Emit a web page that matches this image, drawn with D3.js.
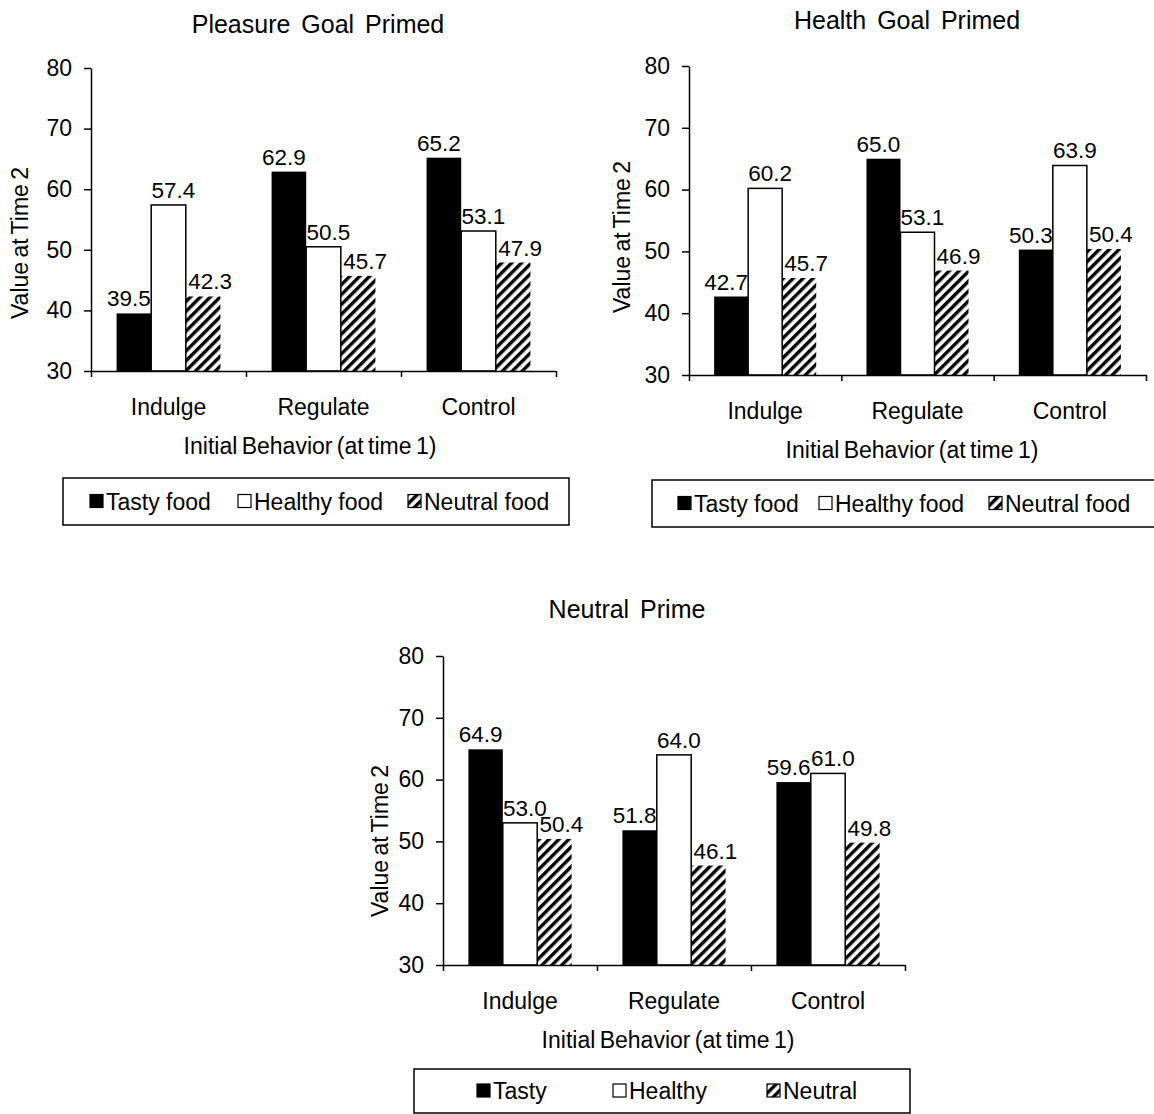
<!DOCTYPE html>
<html>
<head>
<meta charset="utf-8">
<script src="https://cdn.jsdelivr.net/npm/d3@7"></script>
<style>
  body { margin: 0; background: #fff; }
  text { font-family: "Liberation Sans", Arial, sans-serif; fill: #000; }
</style>
</head>
<body>
<div id="chart"></div>
<script>
// data
const categories = ['Indulge', 'Regulate', 'Control'];
const series = ['Tasty', 'Healthy', 'Neutral'];
const yTicks = [30, 40, 50, 60, 70, 80];

const pleasureTasty = [39.5, 62.9, 65.2];
const pleasureHealthy = [57.4, 50.5, 53.1];
const pleasureNeutral = [42.3, 45.7, 47.9];

const healthTasty = [42.7, 65.0, 50.3];
const healthHealthy = [60.2, 53.1, 63.9];
const healthNeutral = [45.7, 46.9, 50.4];

const neutralTasty = [64.9, 51.8, 59.6];
const neutralHealthy = [53.0, 64.0, 61.0];
const neutralNeutral = [50.4, 46.1, 49.8];

const foodLegend = ['Tasty food', 'Healthy food', 'Neutral food'];
const shortLegend = ['Tasty', 'Healthy', 'Neutral'];

const width = 1154;
const height = 1114;
const fs = 23;
// label nudges like the original (tasty left, others right)
const labelShift = { Tasty: -5, Healthy: 5, Neutral: 7 };

const svg = d3.create('svg')
  .attr('width', width)
  .attr('height', height);

d3.select('#chart').append(() => svg.node());

const defs = svg.append('defs');
defs.append('pattern')
  .attr('id', 'hatch')
  .attr('patternUnits', 'userSpaceOnUse')
  .attr('width', 7)
  .attr('height', 7)
  .attr('patternTransform', 'rotate(45)')
  .append('rect')
  .attr('x', 0).attr('y', 0)
  .attr('width', 3.4).attr('height', 7)
  .attr('fill', '#000');

function drawPanel(p) {
  const g = svg.append('g');
  const values = { Tasty: p.tasty, Healthy: p.healthy, Neutral: p.neutral };

  const y = d3.scaleLinear().domain([30, 80]).range([p.bottom, p.top]);
  const x0 = d3.scaleBand().domain(categories).range([p.left, p.right]).padding(0);
  const x1 = d3.scaleBand().domain(series)
    .range([x0.step() * 0.165, x0.step() * 0.835]);

  // title
  g.append('text')
    .attr('x', p.titleX)
    .attr('y', p.titleY)
    .attr('text-anchor', 'middle')
    .style('font-size', '25px')
    .style('word-spacing', '4px')
    .text(p.title);

  // bars
  series.forEach(s => {
    g.append('g').selectAll('rect')
      .data(values[s])
      .join('rect')
      .attr('x', (d, i) => x0(categories[i]) + x1(s))
      .attr('y', d => y(d))
      .attr('width', x1.bandwidth())
      .attr('height', d => y(30) - y(d))
      .attr('fill', s === 'Tasty' ? '#000' : s === 'Healthy' ? '#fff' : 'url(#hatch)')
      .attr('stroke', s === 'Healthy' ? '#000' : 'none')
      .attr('stroke-width', 1.5);
  });

  // value labels
  series.forEach(s => {
    g.append('g').selectAll('text')
      .data(values[s])
      .join('text')
      .attr('x', (d, i) => x0(categories[i]) + x1(s) + x1.bandwidth() / 2 + labelShift[s])
      .attr('y', d => y(d) - 7)
      .attr('text-anchor', 'middle')
      .style('font-size', '22.5px')
      .text(d => d.toFixed(1));
  });

  // y axis
  const yAxis = g.append('g')
    .attr('transform', `translate(${p.left},0)`)
    .call(d3.axisLeft(y).tickValues(yTicks).tickSize(7).tickSizeOuter(0).tickPadding(12));
  yAxis.selectAll('text').style('font-size', fs + 'px').attr('fill', '#000');
  yAxis.selectAll('line, path').attr('stroke', '#000').attr('stroke-width', 1.5);

  // x axis: boundary ticks
  const xb = d3.scaleLinear().domain([0, categories.length]).range([p.left, p.right]);
  const xAxis = g.append('g')
    .attr('transform', `translate(0,${p.bottom})`)
    .call(d3.axisBottom(xb).ticks(categories.length).tickSize(6).tickSizeOuter(0).tickFormat(''));
  xAxis.selectAll('line, path').attr('stroke', '#000').attr('stroke-width', 1.5);

  // x axis: category labels
  const xLab = g.append('g')
    .attr('transform', `translate(0,${p.bottom})`)
    .call(d3.axisBottom(x0).tickSize(0).tickPadding(28));
  xLab.select('.domain').remove();
  xLab.selectAll('text').style('font-size', fs + 'px').attr('fill', '#000');

  // axis titles
  g.append('text')
    .attr('x', p.xTitleX)
    .attr('y', p.bottom + 83)
    .attr('text-anchor', 'middle')
    .style('font-size', fs + 'px')
    .style('word-spacing', '-2px')
    .text('Initial Behavior (at time 1)');

  g.append('text')
    .attr('transform', `translate(${p.yTitleX},${p.yTitleY}) rotate(-90)`)
    .attr('text-anchor', 'middle')
    .style('font-size', fs + 'px')
    .style('word-spacing', '-2px')
    .text('Value at Time 2');

  // legend
  const L = p.legend;
  g.append('rect')
    .attr('x', L.x).attr('y', L.y)
    .attr('width', L.w).attr('height', L.h)
    .attr('fill', 'none')
    .attr('stroke', '#000')
    .attr('stroke-width', 1.5);

  const cy = L.y + L.h / 2;
  const item = g.append('g').selectAll('g')
    .data(series)
    .join('g')
    .attr('transform', (d, i) => `translate(${L.items[i]},${cy})`);
  item.append('rect')
    .attr('x', 0).attr('y', -7)
    .attr('width', 13).attr('height', 13)
    .attr('fill', d => d === 'Tasty' ? '#000' : d === 'Healthy' ? '#fff' : 'url(#hatch)')
    .attr('stroke', '#000')
    .attr('stroke-width', 1.2);
  item.append('text')
    .attr('x', 16)
    .attr('y', 8)
    .style('font-size', fs + 'px')
    .text((d, i) => L.names[i]);
}

drawPanel({
  title: 'Pleasure Goal Primed',
  tasty: pleasureTasty, healthy: pleasureHealthy, neutral: pleasureNeutral,
  left: 91, right: 556, top: 68, bottom: 371,
  titleX: 318, titleY: 33,
  xTitleX: 310, yTitleX: 28, yTitleY: 243,
  legend: { x: 63, y: 478, w: 506, h: 47, items: [90, 238, 408], names: foodLegend }
});

drawPanel({
  title: 'Health Goal Primed',
  tasty: healthTasty, healthy: healthHealthy, neutral: healthNeutral,
  left: 689, right: 1146, top: 66, bottom: 375,
  titleX: 907, titleY: 29,
  xTitleX: 912, yTitleX: 630, yTitleY: 237,
  legend: { x: 652, y: 480, w: 520, h: 47, items: [678, 819, 989], names: foodLegend }
});

drawPanel({
  title: 'Neutral Prime',
  tasty: neutralTasty, healthy: neutralHealthy, neutral: neutralNeutral,
  left: 443, right: 905, top: 656, bottom: 965,
  titleX: 627, titleY: 618,
  xTitleX: 668, yTitleX: 388, yTitleY: 841,
  legend: { x: 414, y: 1069, w: 496, h: 44, items: [477, 613, 767], names: shortLegend }
});
</script>
</body>
</html>
